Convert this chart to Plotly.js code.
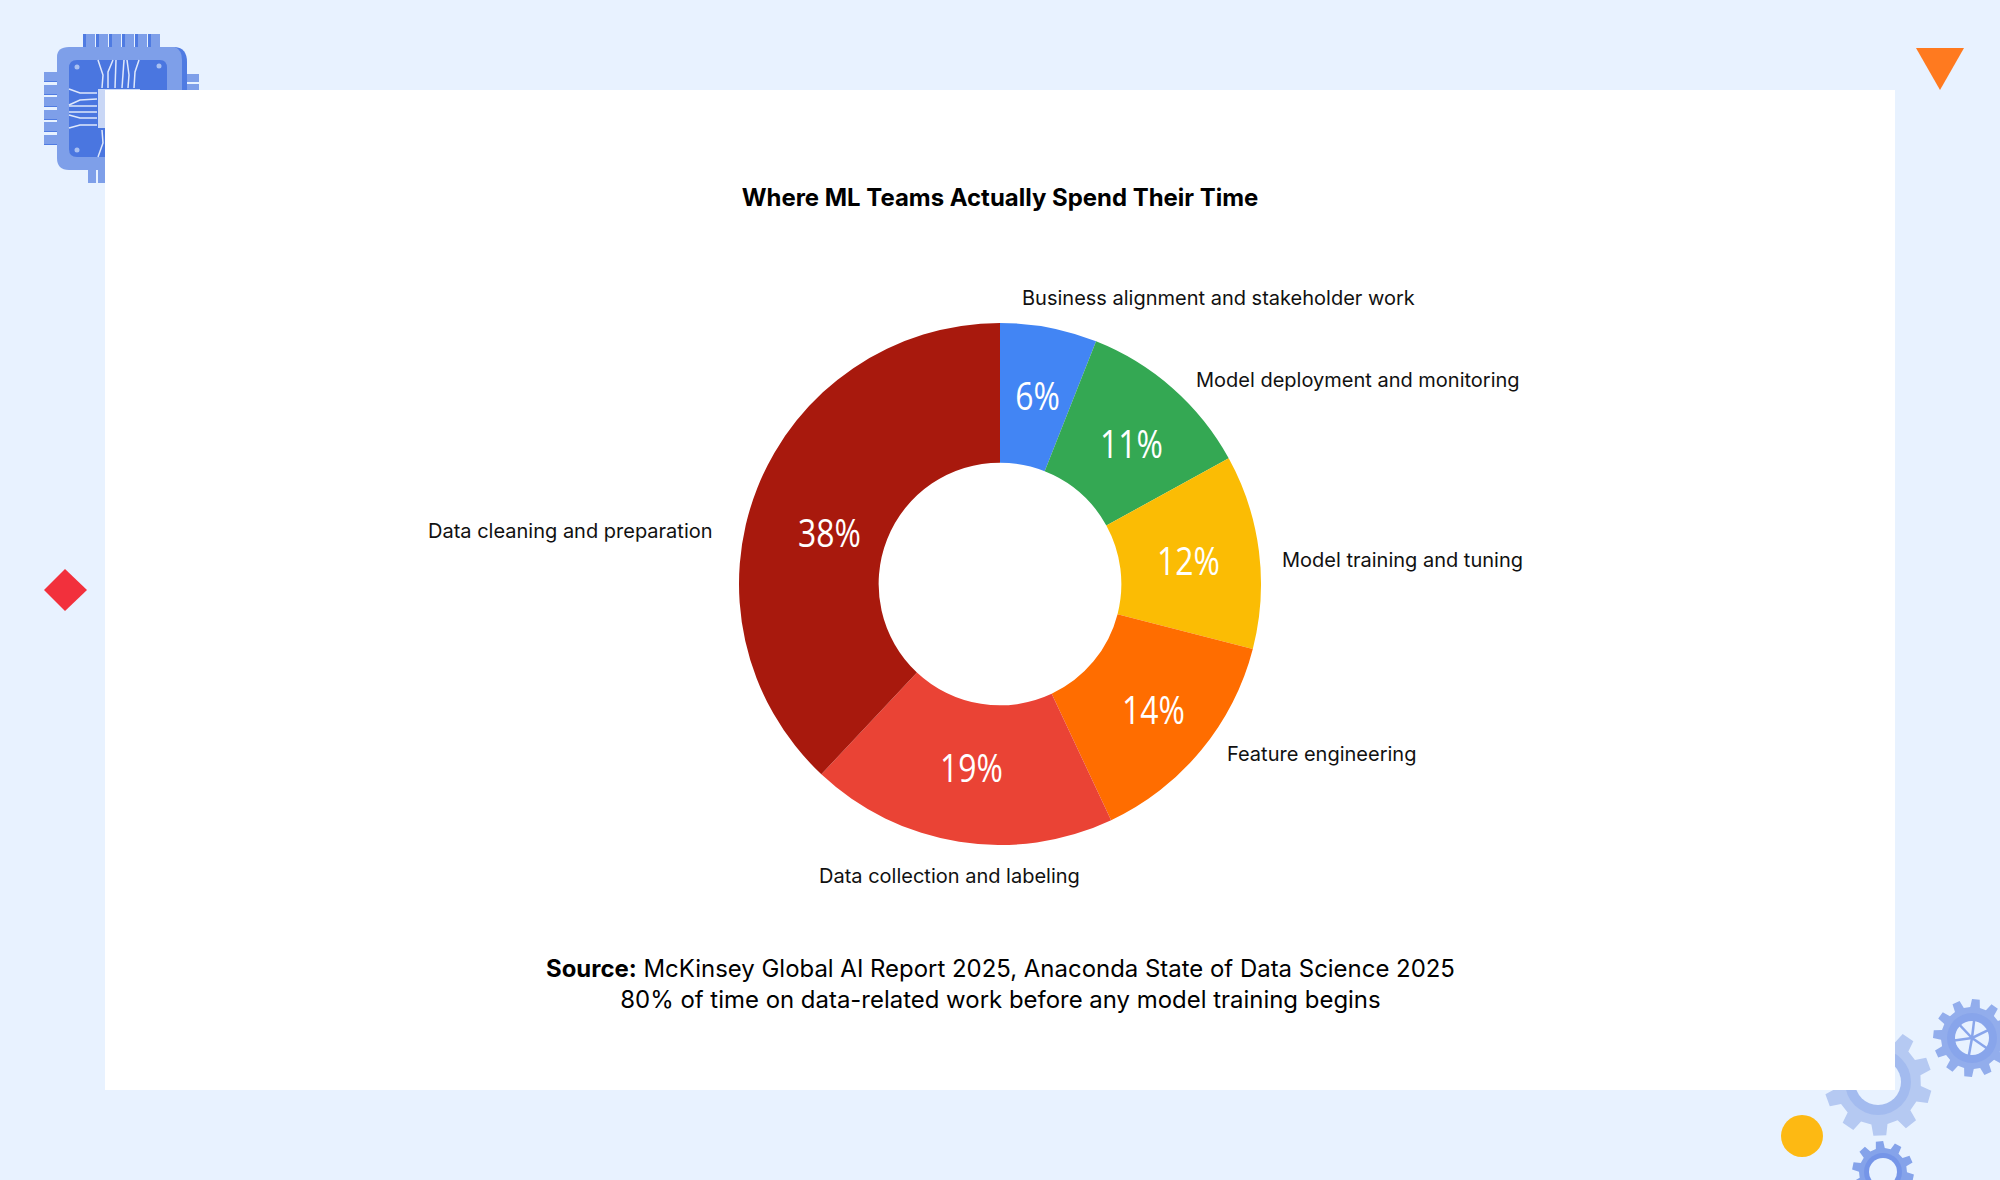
<!DOCTYPE html>
<html>
<head>
<meta charset="utf-8">
<script src="https://cdn.plot.ly/plotly-3.0.1.min.js"></script>
<style>
html, body { margin: 0; padding: 0; background: #e8f2ff; }
#chart { width: 2000px; height: 1180px; }
</style>
</head>
<body>
<div id="chart"></div>
<script>
var categories = [
    'Business alignment and stakeholder work',
    'Model deployment and monitoring',
    'Model training and tuning',
    'Feature engineering',
    'Data collection and labeling',
    'Data cleaning and preparation'
];
var shares = [6, 11, 12, 14, 19, 38];
var sliceColors = ['#4285f4', '#34a853', '#fbbc04', '#ff6d00', '#ea4335', '#a8190d'];

var chartTitle = '<b>Where ML Teams Actually Spend Their Time</b>';
var sourceLines = [
    '<b>Source:</b> McKinsey Global AI Report 2025, Anaconda State of Data Science 2025',
    '80% of time on data-related work before any model training begins'
];

// where the names and the percentages sit on the page, in pixels
var nameSpots = [[1020, 298, 'left'], [1194, 380, 'left'], [1280, 560, 'left'], [1225, 754, 'left'], [817, 876, 'left'], [715, 531, 'right']];
var percentSpots = [[1037, 395], [1131, 443], [1188, 560], [1153, 709], [971, 767], [829, 532]];

var W = 2000, H = 1180;
var CX = 1000, CY = 584, R = 261;
var BG = '#e8f2ff';

// page pixels to paper coordinates
function px(x) { return x / W; }
function py(y) { return 1 - y / H; }

function rect(x0, y0, x1, y1, color) {
    return { type: 'rect', xref: 'paper', yref: 'paper', x0: px(x0), y0: py(y0), x1: px(x1), y1: py(y1),
        fillcolor: color, line: { width: 0 }, layer: 'below' };
}
function circle(cx, cy, r, color) {
    return { type: 'circle', xref: 'paper', yref: 'paper', x0: px(cx - r), y0: py(cy - r), x1: px(cx + r), y1: py(cy + r),
        fillcolor: color, line: { width: 0 }, layer: 'below' };
}
function poly(points, color, lineWidth) {
    var d = points.map(function (p, i) {
        return (i ? 'L' : 'M') + px(p[0]) + ',' + py(p[1]);
    }).join(' ');
    if (!lineWidth) d += ' Z';
    return { type: 'path', xref: 'paper', yref: 'paper', path: d,
        fillcolor: lineWidth ? 'rgba(0,0,0,0)' : color,
        line: lineWidth ? { color: color, width: lineWidth } : { width: 0 }, layer: 'below' };
}
function gear(cx, cy, outer, root, teeth, rot, color) {
    var pts = [], step = 2 * Math.PI / teeth;
    for (var i = 0; i < teeth; i++) {
        var a = rot + i * step;
        pts.push([cx + root * Math.cos(a - step * 0.30), cy + root * Math.sin(a - step * 0.30)]);
        pts.push([cx + outer * Math.cos(a - step * 0.19), cy + outer * Math.sin(a - step * 0.19)]);
        pts.push([cx + outer * Math.cos(a + step * 0.19), cy + outer * Math.sin(a + step * 0.19)]);
        pts.push([cx + root * Math.cos(a + step * 0.30), cy + root * Math.sin(a + step * 0.30)]);
    }
    return poly(pts, color);
}

var shapes = [];

// chip, top left
[83, 96, 109, 122, 135, 148].forEach(function (x) {
    shapes.push(rect(x, 34, x + 12, 47, '#7e9fe9'));
    shapes.push(rect(x, 34, x + 3, 47, '#4f7be2'));
});
[72, 85, 97, 110, 122, 135].forEach(function (y) {
    shapes.push(rect(44, y, 57, y + 9, '#7e9fe9'));
    shapes.push(rect(44, y + 9, 57, y + 10, '#4f7be2'));
});
[74, 84].forEach(function (y) { shapes.push(rect(187, y, 199, y + 8, '#7e9fe9')); });
[88, 98].forEach(function (x) {
    shapes.push(rect(x, 170, x + 8, 183, '#7e9fe9'));
});
shapes.push({ type: 'path', xref: 'paper', yref: 'paper', fillcolor: '#4f7be2', line: { width: 0 }, layer: 'below',
    path: 'M' + px(170) + ',' + py(47) + ' L' + px(175) + ',' + py(47) + ' Q' + px(187) + ',' + py(48) + ' ' + px(187) + ',' + py(62) +
        ' L' + px(187) + ',' + py(90) + ' L' + px(170) + ',' + py(90) + ' Z' });
shapes.push({ type: 'path', xref: 'paper', yref: 'paper', fillcolor: '#7e9fe9', line: { width: 0 }, layer: 'below',
    path: 'M' + px(57) + ',' + py(57) + ' Q' + px(57) + ',' + py(47) + ' ' + px(69) + ',' + py(47) +
        ' L' + px(175) + ',' + py(47) + ' Q' + px(182) + ',' + py(50) + ' ' + px(182) + ',' + py(60) +
        ' L' + px(182) + ',' + py(170) + ' L' + px(69) + ',' + py(170) + ' Q' + px(57) + ',' + py(170) + ' ' + px(57) + ',' + py(158) + ' Z' });
shapes.push({ type: 'path', xref: 'paper', yref: 'paper', fillcolor: '#4a76e0', line: { width: 0 }, layer: 'below',
    path: 'M' + px(69) + ',' + py(68) + ' Q' + px(69) + ',' + py(60) + ' ' + px(77) + ',' + py(60) +
        ' L' + px(160) + ',' + py(60) + ' Q' + px(167) + ',' + py(60) + ' ' + px(167) + ',' + py(68) +
        ' L' + px(167) + ',' + py(157) + ' L' + px(77) + ',' + py(157) + ' Q' + px(69) + ',' + py(157) + ' ' + px(69) + ',' + py(149) + ' Z' });
shapes.push(rect(98, 89, 140, 128, '#c9d7f6'));
[[77, 67], [159, 66], [77, 150]].forEach(function (p) { shapes.push(circle(p[0], p[1], 2.5, '#a9c0f1')); });
// traces of the chip
[
    [[98, 60], [103, 75], [102, 88]], [[113, 60], [108, 72], [108, 88]], [[116, 60], [115, 88]],
    [[124, 60], [122, 88]], [[127, 60], [129, 75], [128, 88]], [[139, 60], [135, 72], [134, 88]],
    [[69, 89], [80, 93], [97, 93]], [[69, 105], [80, 100], [97, 99]], [[69, 106], [97, 106]],
    [[69, 112], [97, 112]], [[69, 115], [80, 118], [97, 118]], [[69, 128], [80, 125], [97, 125]],
    [[102, 130], [103, 143], [98, 157]]
].forEach(function (t) { shapes.push(poly(t, '#dfe8fb', 1.5)); });

// gears, bottom right
shapes.push(gear(1878, 1082, 54, 43, 10, 0.28, '#b5c9f2'));
shapes.push(circle(1878, 1082, 33, '#a3bbef'));
shapes.push(circle(1878, 1082, 23, BG));

shapes.push(gear(1972, 1038, 39, 31, 12, 0.1, '#92adec'));
shapes.push(circle(1972, 1038, 25, '#88a5eb'));
shapes.push(circle(1972, 1038, 17, BG));
[-1.45, -0.45, 0.6, 1.75, 3.0, 3.95].forEach(function (a) {
    shapes.push(poly([[1972, 1038], [1972 + 18 * Math.cos(a), 1038 + 18 * Math.sin(a)]], '#88a5eb', 2.5));
});

shapes.push(gear(1883, 1172, 31, 24, 10, 0.2, '#85a3ea'));
shapes.push(circle(1883, 1172, 19, '#7595e8'));
shapes.push(circle(1883, 1172, 14, BG));

shapes.push(circle(1802, 1136, 21, '#fdb913'));
shapes.push(poly([[1916, 48], [1964, 48], [1940, 90]], '#ff7a1f'));
shapes.push(poly([[65, 569], [87, 590], [65, 611], [44, 590]], '#f2303c'));

// white card, hides part of the chip and of the big gear
shapes.push(rect(105, 90, 1895, 1090, '#ffffff'));

var domain = { x: [px(CX - R), px(CX + R)], y: [py(CY + R), py(CY - R)] };

var sliceTrace = {
    type: 'pie', labels: categories, values: shares, sort: false, direction: 'clockwise', rotation: 0,
    hole: 0.465, domain: domain, textinfo: 'none',
    marker: { colors: sliceColors, line: { width: 0 } }, showlegend: false
};

var annotations = [{
    xref: 'paper', yref: 'paper', x: 0.5, y: py(983.5), xanchor: 'center', yanchor: 'middle', showarrow: false,
    align: 'center', text: sourceLines.join('<br>'), font: { family: 'Inter', size: 23.95, color: '#000000' }
}];
categories.forEach(function (name, i) {
    annotations.push({
        xref: 'paper', yref: 'paper', x: px(nameSpots[i][0]), y: py(nameSpots[i][1]), xanchor: nameSpots[i][2], yanchor: 'middle',
        showarrow: false, text: name, font: { family: 'Inter', size: 20, color: '#111111' }
    });
    annotations.push({
        xref: 'paper', yref: 'paper', x: px(percentSpots[i][0]), y: py(percentSpots[i][1]), xanchor: 'center', yanchor: 'middle',
        showarrow: false, text: shares[i] + '%',
        font: { family: 'Open Sans', weight: 500, size: 38, color: '#ffffff' }
    });
});

var layout = {
    width: W, height: H,
    margin: { l: 0, r: 0, t: 0, b: 0 },
    paper_bgcolor: BG,
    showlegend: false,
    title: {
        text: chartTitle, x: 0.5, xanchor: 'center', y: py(198), yanchor: 'middle',
        font: { family: 'Inter', size: 23.95, color: '#000000' }
    },
    shapes: shapes,
    annotations: annotations
};

Plotly.newPlot('chart', [sliceTrace], layout, { displayModeBar: false }).then(function () {
    // the percentages are a condensed face in the original, squeeze them to match
    document.querySelectorAll('.annotation-text').forEach(function (t) {
        if (/^\d+%$/.test(t.textContent)) {
            t.setAttribute('textLength', t.getComputedTextLength() * 0.84);
            t.setAttribute('lengthAdjust', 'spacingAndGlyphs');
        }
    });
});
</script>
</body>
</html>
